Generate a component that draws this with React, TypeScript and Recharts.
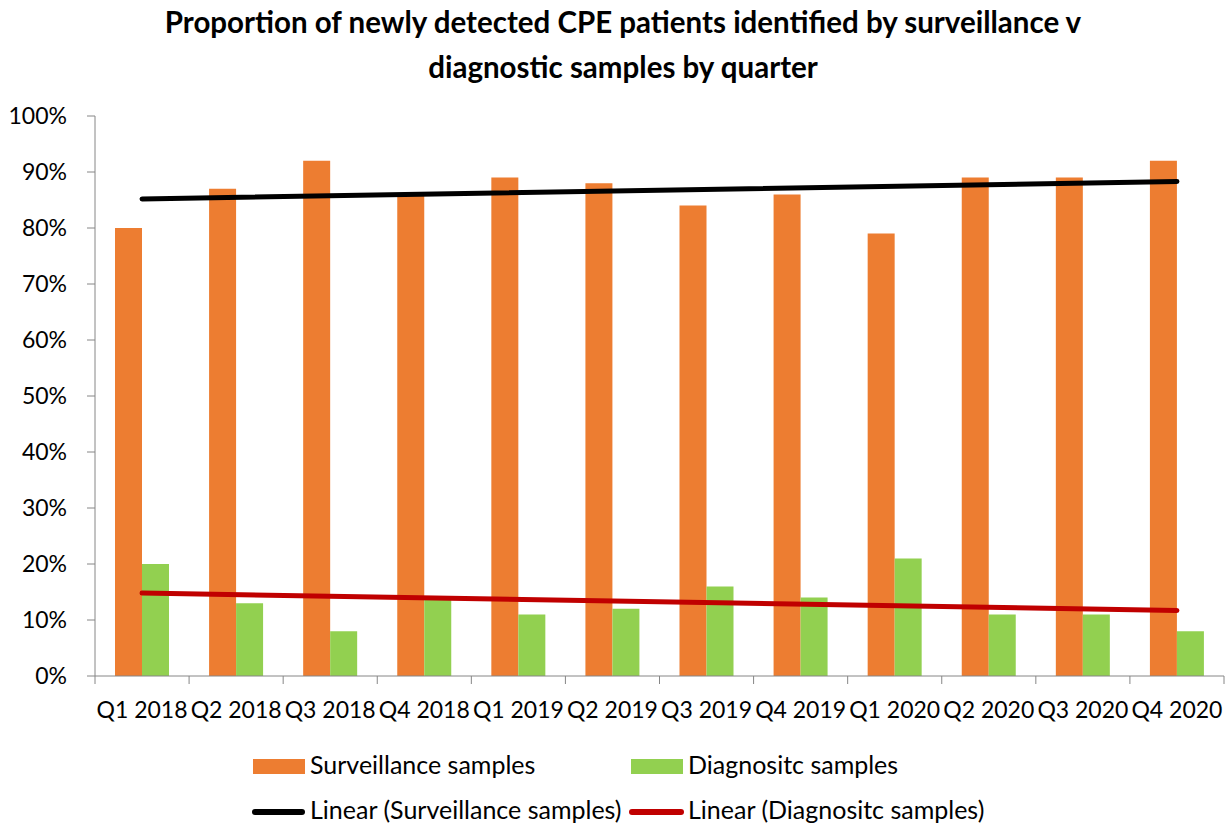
import { ComposedChart, Bar, Line, XAxis, YAxis } from "recharts";

const quarters = [
  "Q1 2018", "Q2 2018", "Q3 2018", "Q4 2018",
  "Q1 2019", "Q2 2019", "Q3 2019", "Q4 2019",
  "Q1 2020", "Q2 2020", "Q3 2020", "Q4 2020",
];
const surveillance = [80, 87, 92, 86, 89, 88, 84, 86, 79, 89, 89, 92];
const diagnostic = [20, 13, 8, 14, 11, 12, 16, 14, 21, 11, 11, 8];
// trend line end points (first and last quarter)
const survTrend = [85.2, null, null, null, null, null, null, null, null, null, null, 88.3];
const diagTrend = [14.8, null, null, null, null, null, null, null, null, null, null, 11.7];
const yTicks = [0, 10, 20, 30, 40, 50, 60, 70, 80, 90, 100];

const data = quarters.map((q, i) => ({
  q,
  surv: surveillance[i],
  diag: diagnostic[i],
  survTrend: survTrend[i],
  diagTrend: diagTrend[i],
}));

const FONT = "Lato, 'Open Sans', sans-serif";
const AXIS = "#868686";
const BAND = (1224 - 95) / quarters.length;

const QuarterTick = (props: any) => {
  const { x, y, payload, index } = props;
  return (
    <g>
      <line x1={x - BAND / 2} y1={y - 8} x2={x - BAND / 2} y2={y} stroke={AXIS} />
      {index === quarters.length - 1 && (
        <line x1={x + BAND / 2} y1={y - 8} x2={x + BAND / 2} y2={y} stroke={AXIS} />
      )}
      <text x={x} y={y + 34} textAnchor="middle" fontSize={23} fill="#000" fontFamily={FONT}>
        {payload.value}
      </text>
    </g>
  );
};

const App = () => (
  <div style={{ position: "absolute", left: 0, top: 0, width: 1226, height: 825, overflow: "hidden", background: "#fff", fontFamily: FONT }}>
    <div style={{ position: "absolute", top: -1, left: 0, width: 1246, textAlign: "center", fontWeight: 700, fontSize: 29.5, lineHeight: "45px", color: "#000" }}>
      Proportion of newly detected CPE patients identified by surveillance v
      <br />
      diagnostic samples by quarter
    </div>
    <ComposedChart
      width={1226}
      height={740}
      data={data}
      margin={{ top: 116, right: 2, left: 0, bottom: 0 }}
      barGap={0}
      barSize={27}
    >
      <XAxis
        dataKey="q"
        interval={0}
        tickLine={false}
        axisLine={{ stroke: AXIS }}
        tick={<QuarterTick />}
        height={64}
      />
      <YAxis
        domain={[0, 100]}
        ticks={yTicks}
        tickFormatter={(v: number) => `${v}%`}
        width={95}
        tickSize={8}
        tickLine={{ stroke: AXIS }}
        axisLine={{ stroke: AXIS }}
        tick={{ fontSize: 23, fill: "#000", fontFamily: FONT, dx: -18 }}
        interval={0}
      />
      <Bar dataKey="surv" fill="#ED7D31" isAnimationActive={false} />
      <Bar dataKey="diag" fill="#92D050" isAnimationActive={false} />
      <Line dataKey="survTrend" stroke="#000" strokeWidth={5} strokeLinecap="round" dot={false} connectNulls isAnimationActive={false} />
      <Line dataKey="diagTrend" stroke="#C00000" strokeWidth={5} strokeLinecap="round" dot={false} connectNulls isAnimationActive={false} />
    </ComposedChart>
    <div style={{ position: "absolute", left: 0, top: 0, fontSize: 25, color: "#000" }}>
      <div style={{ position: "absolute", left: 253, top: 759, width: 52, height: 15, background: "#ED7D31" }} />
      <div style={{ position: "absolute", left: 310, top: 749, whiteSpace: "nowrap" }}>Surveillance samples</div>
      <div style={{ position: "absolute", left: 631, top: 759, width: 52, height: 15, background: "#92D050" }} />
      <div style={{ position: "absolute", left: 688, top: 749, whiteSpace: "nowrap" }}>Diagnositc samples</div>
      <div style={{ position: "absolute", left: 252, top: 809, width: 53, height: 6, borderRadius: 3, background: "#000" }} />
      <div style={{ position: "absolute", left: 310, top: 794, whiteSpace: "nowrap" }}>Linear (Surveillance samples)</div>
      <div style={{ position: "absolute", left: 629, top: 809, width: 55, height: 6, borderRadius: 3, background: "#C00000" }} />
      <div style={{ position: "absolute", left: 688, top: 794, whiteSpace: "nowrap" }}>Linear (Diagnositc samples)</div>
    </div>
  </div>
);

export default App;
